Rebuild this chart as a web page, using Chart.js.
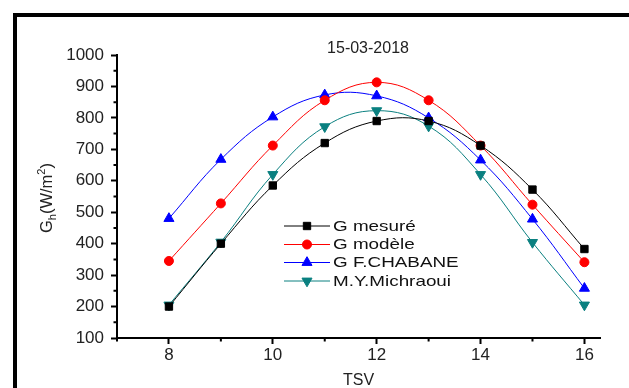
<!DOCTYPE html>
<html>
<head>
<meta charset="utf-8">
<script src="https://cdn.jsdelivr.net/npm/chart.js@4/dist/chart.umd.min.js"></script>
<style>
  html, body { margin: 0; padding: 0; background: #fff; }
  #wrap { width: 629px; height: 388px; }
</style>
</head>
<body>
<div id="wrap"><canvas id="chart" width="629" height="388"></canvas></div>
<script>
// heures solaires (TSV) et irradiation mesurée / modélisée
const tsv = [8, 9, 10, 11, 12, 13, 14, 15, 16];
const gMesure = [200, 400, 585, 720, 790, 790, 712, 572, 383];
const gModele = [345, 528, 712, 856, 913, 856, 712, 524, 341];
const gChabane = [480, 668, 803, 873, 870, 800, 666, 478, 258];
const gMichraoui = [205, 405, 620, 772, 823, 774, 620, 404, 205];
const xTicks = [8, 10, 12, 14, 16];
const yTicks = [100, 200, 300, 400, 500, 600, 700, 800, 900, 1000];

const FONT = "'Liberation Sans', Arial, sans-serif";

const series = [
  { label: 'G mesuré', data: gMesure, color: '#000000', style: 'rect', rot: 0, r: 5.2 },
  { label: 'G modèle', data: gModele, color: '#ff0000', style: 'circle', rot: 0, r: 4.5 },
  { label: 'G F.CHABANE', data: gChabane, color: '#0000ff', style: 'triangle', rot: 0, r: 5.8 },
  { label: 'M.Y.Michraoui', data: gMichraoui, color: '#0a8080', style: 'triangle', rot: 180, r: 5.8 }
];

const toPoints = vals => tsv.map((t, i) => ({ x: t, y: vals[i] }));

// cadre noir, titre, titre de l'axe Y, petites graduations, légende
const decor = {
  id: 'decor',
  beforeDraw(chart) {
    const ctx = chart.ctx;
    ctx.save();
    ctx.fillStyle = '#fff';
    ctx.fillRect(0, 0, chart.width, chart.height);
    ctx.fillStyle = '#000';
    ctx.fillRect(13, 13, chart.width - 13, 4);
    ctx.fillRect(13, 13, 4, chart.height - 13);
    ctx.restore();
  },
  afterDraw(chart) {
    const ctx = chart.ctx;
    const xs = chart.scales.x, ys = chart.scales.y;
    const area = chart.chartArea;
    ctx.save();

    // minor ticks
    ctx.strokeStyle = '#000';
    ctx.lineWidth = 2;
    ctx.beginPath();
    for (let v = 7; v < 16.3; v += 2) {
      const px = xs.getPixelForValue(v);
      ctx.moveTo(px, area.bottom);
      ctx.lineTo(px, area.bottom + 3.5);
    }
    for (let v = 150; v < 1000; v += 100) {
      const py = ys.getPixelForValue(v);
      ctx.moveTo(area.left, py);
      ctx.lineTo(area.left - 3.5, py);
    }
    ctx.stroke();

    // titre
    ctx.fillStyle = '#222';
    ctx.font = '16px ' + FONT;
    ctx.textAlign = 'center';
    ctx.textBaseline = 'middle';
    ctx.fillText('15-03-2018', 368, 49);

    // G_h(W/m²) vertical
    ctx.translate(52, 198);
    ctx.rotate(-Math.PI / 2);
    ctx.textBaseline = 'alphabetic';
    ctx.textAlign = 'left';
    const big = '16.5px ' + FONT, small = '11px ' + FONT;
    const parts = [['G', big, 0], ['h', small, 4], ['(W/m', big, 0], ['2', small, -7], [')', big, 0]];
    let w = 0;
    parts.forEach(p => { ctx.font = p[1]; w += ctx.measureText(p[0]).width; });
    let x = -w / 2;
    parts.forEach(p => {
      ctx.font = p[1];
      ctx.fillText(p[0], x, p[2]);
      x += ctx.measureText(p[0]).width;
    });
    ctx.restore();

    // légende
    ctx.save();
    const rows = [226, 244.5, 262.5, 281];
    series.forEach((s, i) => {
      const y = rows[i];
      ctx.strokeStyle = s.color;
      ctx.fillStyle = s.color;
      ctx.lineWidth = 1;
      ctx.beginPath();
      ctx.moveTo(284, y);
      ctx.lineTo(330, y);
      ctx.stroke();
      Chart.helpers.drawPoint(ctx, { pointStyle: s.style, radius: s.r, rotation: s.rot, borderWidth: 1 }, 307, y);
      ctx.save();
      ctx.fillStyle = '#111';
      ctx.font = '14.5px ' + FONT;
      ctx.textBaseline = 'middle';
      ctx.translate(333, y + 0.5);
      ctx.scale(1.3, 1);
      ctx.fillText(s.label, 0, 0);
      ctx.restore();
    });
    ctx.restore();
  }
};

const ctx = document.getElementById('chart').getContext('2d');
const chart = new Chart(ctx, {
  type: 'line',
  data: {
    datasets: series.map(s => ({
      label: s.label,
      data: toPoints(s.data),
      borderColor: s.color,
      backgroundColor: s.color,
      borderWidth: 1,
      tension: 0.4,
      pointStyle: s.style,
      pointRotation: s.rot,
      pointRadius: s.r,
      pointBorderWidth: 1,
      fill: false
    }))
  },
  options: {
    responsive: false,
    animation: false,
    devicePixelRatio: 1,
    layout: { padding: { top: 55, right: 29, bottom: 0, left: 0 } },
    plugins: {
      legend: { display: false },
      title: { display: false },
      tooltip: { enabled: false }
    },
    scales: {
      x: {
        type: 'linear',
        min: 7,
        max: 16.3,
        afterBuildTicks: s => { s.ticks = xTicks.map(v => ({ value: v })); },
        afterFit: s => { s.height = 50; },
        ticks: { color: '#222', font: { family: FONT, size: 17 }, padding: 1, maxRotation: 0, callback: v => String(v) },
        grid: { drawOnChartArea: false, tickLength: 6, tickWidth: 2, color: '#000' },
        border: { color: '#000', width: 2 },
        title: { display: true, text: 'TSV', color: '#222', font: { family: FONT, size: 16, lineHeight: 0.9 }, padding: 0 }
      },
      y: {
        min: 100,
        max: 1000,
        afterBuildTicks: s => { s.ticks = yTicks.map(v => ({ value: v })); },
        afterFit: s => { s.width = 117; },
        ticks: { color: '#222', font: { family: FONT, size: 17 }, padding: 7, callback: v => String(v) },
        grid: { drawOnChartArea: false, tickLength: 6, tickWidth: 2, color: '#000' },
        border: { color: '#000', width: 2 }
      }
    }
  },
  plugins: [decor]
});
</script>
</body>
</html>
